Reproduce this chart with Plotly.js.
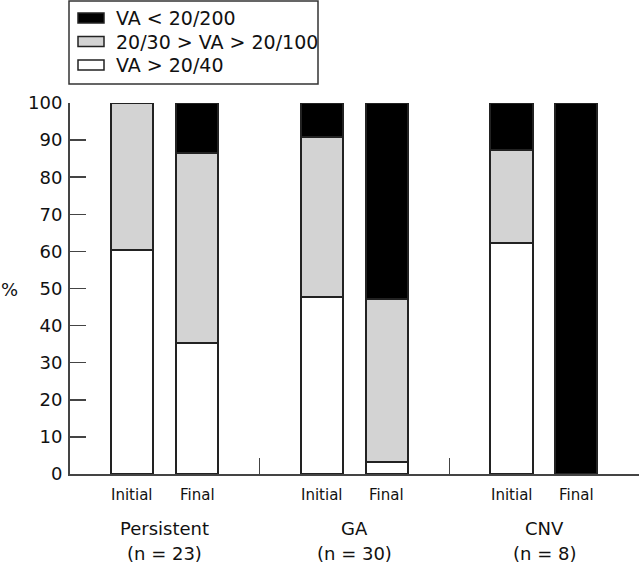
<!DOCTYPE html>
<html>
<head>
<meta charset="utf-8">
<script src="https://cdn.plot.ly/plotly-3.0.1.min.js"></script>
<style>html,body{margin:0;padding:0;background:#fff;}#chart{width:640px;height:565px;}</style>
</head>
<body>
<div id="chart"></div>
<script>
// ---- data ----
const groups = ['Persistent', 'GA', 'CNV'];
const groupN = ['(n = 23)', '(n = 30)', '(n = 8)'];
const phases = ['Initial', 'Final'];
const seriesNames = ['VA > 20/40', '20/30 > VA > 20/100', 'VA < 20/200'];
// order: Persistent Initial, Persistent Final, GA Initial, GA Final, CNV Initial, CNV Final
const goodVA = [60.5, 35.2, 47.8, 3.3, 62.3, 0];
const midVA = [39.5, 51.2, 43.0, 44.0, 25.0, 0];
const poorVA = [0, 13.6, 9.2, 52.7, 12.7, 100];
const yTicks = [0, 10, 20, 30, 40, 50, 60, 70, 80, 90, 100];

// ---- layout constants ----
const W = 640, H = 565;
const M = {l: 70, r: 1, t: 103, b: 91};
const PW = W - M.l - M.r, PH = H - M.t - M.b;
const px2x = p => (p - M.l) / PW;
const py2y = p => (H - M.b - p) / PH;
const phaseOffset = [0.328, 0.67];
const barW = 0.222;
const colors = ['#ffffff', '#d3d3d3', '#000000'];
const FONT = 'DejaVu Sans, sans-serif';
const INK = '#111';

const xs = [];
groups.forEach((g, gi) => phases.forEach((p, pi) => xs.push(gi + phaseOffset[pi])));

const seriesVals = [goodVA, midVA, poorVA];
const traces = seriesVals.map((vals, i) => ({
  type: 'bar', x: xs, y: vals, width: barW, name: seriesNames[i],
  marker: {color: colors[i], line: {color: '#222', width: 2}},
  showlegend: false, hoverinfo: 'skip'
}));

const annotations = [];
xs.forEach((x, i) => annotations.push({
  x: x, xref: 'x', y: py2y(495), yref: 'paper', text: phases[i % 2], showarrow: false,
  xanchor: 'center', yanchor: 'middle', font: {family: FONT, size: 15, color: INK}
}));
groups.forEach((g, gi) => {
  annotations.push({x: gi + 0.5, xref: 'x', y: py2y(528), yref: 'paper', text: g, showarrow: false,
    xanchor: 'center', yanchor: 'middle', font: {family: FONT, size: 18, color: INK}});
  annotations.push({x: gi + 0.5, xref: 'x', y: py2y(553), yref: 'paper', text: groupN[gi], showarrow: false,
    xanchor: 'center', yanchor: 'middle', font: {family: FONT, size: 18, color: INK}});
});
annotations.push({x: px2x(9), xref: 'paper', y: py2y(289), yref: 'paper', text: '%', showarrow: false,
  xanchor: 'center', yanchor: 'middle', font: {family: FONT, size: 18, color: INK}});

// manual legend (top to bottom: poor, mid, good)
const shapes = [{type: 'rect', xref: 'paper', yref: 'paper', x0: px2x(69), x1: px2x(318), y0: py2y(84), y1: py2y(1),
  line: {color: '#333', width: 1.5}, fillcolor: 'rgba(0,0,0,0)'}];
const legendOrder = [2, 1, 0];
legendOrder.forEach((si, row) => {
  const cy = 18 + row * 23.5;
  shapes.push({type: 'rect', xref: 'paper', yref: 'paper', x0: px2x(78), x1: px2x(104), y0: py2y(cy + 5), y1: py2y(cy - 5),
    line: {color: '#222', width: 1.5}, fillcolor: colors[si]});
  annotations.push({x: px2x(114), xref: 'paper', y: py2y(cy), yref: 'paper', text: seriesNames[si], showarrow: false,
    xanchor: 'left', yanchor: 'middle', font: {family: FONT, size: 19, color: INK}});
});

const layout = {
  width: W, height: H, margin: M, barmode: 'stack', showlegend: false,
  paper_bgcolor: '#fff', plot_bgcolor: '#fff',
  font: {family: FONT, color: INK},
  xaxis: {range: [0, 3], showgrid: false, zeroline: false, showline: true, linecolor: '#444', linewidth: 2,
    tickmode: 'array', tickvals: [1, 2, 2.998], ticks: 'inside', ticklen: 16, tickwidth: 1.5, tickcolor: '#444',
    showticklabels: false, fixedrange: true},
  yaxis: {range: [0, 100], showgrid: false, zeroline: false, showline: true, linecolor: '#444', linewidth: 2,
    tickmode: 'array', tickvals: yTicks, ticks: 'inside', ticklen: 16, tickwidth: 1.5, tickcolor: '#444',
    ticklabelstandoff: 2, tickfont: {family: FONT, size: 18, color: INK}, fixedrange: true},
  shapes: shapes, annotations: annotations
};

Plotly.newPlot('chart', traces, layout, {displayModeBar: false, staticPlot: true});
</script>
</body>
</html>
